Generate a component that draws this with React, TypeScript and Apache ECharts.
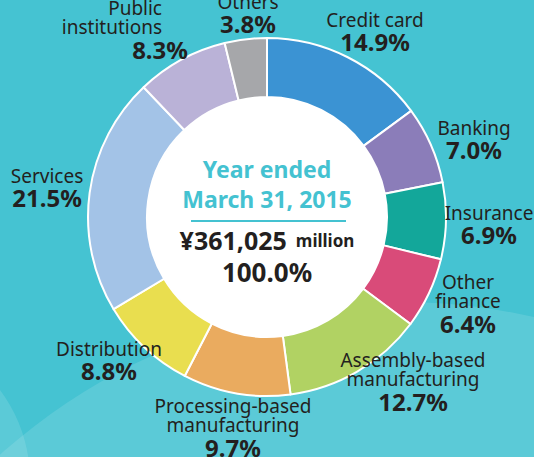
import React, { useEffect, useRef } from "react";
import * as echarts from "echarts";

const categories = [
  "Credit card",
  "Banking",
  "Insurance",
  "Other\nfinance",
  "Assembly-based\nmanufacturing",
  "Processing-based\nmanufacturing",
  "Distribution",
  "Services",
  "Public\ninstitutions",
  "Others",
];
const shares = [14.9, 7.0, 6.9, 6.4, 12.7, 9.7, 8.8, 21.5, 8.3, 3.8];
const colors = [
  "#3b93d3",
  "#8b7db9",
  "#13a79a",
  "#d94b79",
  "#b1d263",
  "#eaab5f",
  "#e9de4f",
  "#a3c3e7",
  "#bab2d7",
  "#a6a7aa",
];
const centerTitle = ["Year ended", "March 31, 2015"];
const totalAmount = "¥361,025";
const totalUnit = "million";
const totalShare = "100.0%";

// label anchor positions (layout only)
const labelPos: [number, number, string][] = [
  [375, 32, "center"],
  [474, 140, "center"],
  [489, 225, "center"],
  [468, 304, "center"],
  [413, 382, "center"],
  [233, 428, "center"],
  [109, 361, "center"],
  [47, 188, "center"],
  [188, 30, "right"],
  [248, 14, "center"],
];

const TEAL = "#45c3d2";
const DARK = "#231f20";
const FONT = "'Noto Sans', sans-serif";

export default function App() {
  const ref = useRef<HTMLDivElement>(null);
  useEffect(() => {
    if (!ref.current) return;
    const chart = echarts.init(ref.current, undefined, { renderer: "svg" });
    const data = categories.map((c, i) => ({
      name: c,
      value: shares[i],
      itemStyle: { color: colors[i] },
    }));
    chart.setOption({
      animation: false,
      backgroundColor: TEAL,
      graphic: [
        {
          type: "circle",
          z: 0,
          silent: true,
          shape: { cx: 400, cy: 902, r: 600 },
          style: { fill: "rgba(255,255,255,0.12)" },
        },
        {
          type: "circle",
          z: 0,
          silent: true,
          shape: { cx: -120, cy: 480, r: 150 },
          style: { fill: "rgba(255,255,255,0.12)" },
        },
        {
          type: "circle",
          z: 1,
          silent: true,
          shape: { cx: 267, cy: 217, r: 120 },
          style: { fill: "#ffffff" },
        },
        {
          type: "text",
          z: 10,
          x: 267,
          y: 169,
          style: {
            text: centerTitle[0],
            fill: "#44c2d1",
            font: `bold 23px ${FONT}`,
            align: "center",
            verticalAlign: "middle",
          },
        },
        {
          type: "text",
          z: 10,
          x: 267,
          y: 199,
          style: {
            text: centerTitle[1],
            fill: "#44c2d1",
            font: `bold 23px ${FONT}`,
            align: "center",
            verticalAlign: "middle",
          },
        },
        {
          type: "line",
          z: 10,
          shape: { x1: 191, y1: 221, x2: 346, y2: 221 },
          style: { stroke: "#44c2d1", lineWidth: 2 },
        },
        {
          type: "text",
          z: 10,
          x: 267,
          y: 240,
          style: {
            text: `{a|${totalAmount}}{b|${totalUnit}}`,
            align: "center",
            verticalAlign: "middle",
            rich: {
              a: { fontSize: 25, fontWeight: "bold", fontFamily: FONT, fill: DARK, color: DARK },
              b: {
                fontSize: 17,
                fontWeight: "bold",
                fontFamily: FONT,
                fill: DARK,
                color: DARK,
                padding: [0, 0, 0, 9],
              },
            },
          },
        },
        {
          type: "text",
          z: 10,
          x: 267,
          y: 272,
          style: {
            text: totalShare,
            fill: DARK,
            font: `bold 26px ${FONT}`,
            align: "center",
            verticalAlign: "middle",
          },
        },
      ],
      series: [
        {
          type: "pie",
          z: 2,
          center: [267, 217],
          radius: [120, 179],
          startAngle: 90,
          clockwise: true,
          avoidLabelOverlap: false,
          itemStyle: { borderColor: "#ffffff", borderWidth: 2 },
          emphasis: { disabled: true },
          labelLine: { show: false },
          label: {
            show: true,
            position: "outside",
            formatter: (p: any) => {
              const nameStyle = p.dataIndex === 8 ? "np" : "n";
              const lines = String(p.name)
                .split("\n")
                .map((l: string) => `{${nameStyle}|${l}}`);
              return lines.join("\n") + `\n{v|${shares[p.dataIndex].toFixed(1)}%}`;
            },
            rich: {
              n: { fontSize: 19, lineHeight: 19, color: DARK, fontFamily: FONT },
              np: {
                fontSize: 19,
                lineHeight: 19,
                color: DARK,
                fontFamily: FONT,
                padding: [0, 26, 0, 0],
              },
              v: { fontSize: 24, lineHeight: 25, fontWeight: "bold", color: DARK, fontFamily: FONT },
            },
          },
          labelLayout: (params: any) => {
            const p = labelPos[params.dataIndex];
            return { x: p[0], y: p[1], align: p[2], verticalAlign: "middle" };
          },
          data,
        },
      ],
    });
    return () => chart.dispose();
  }, []);
  return (
    <div
      ref={ref}
      style={{ position: "fixed", left: 0, top: 0, width: 534, height: 457 }}
    />
  );
}
